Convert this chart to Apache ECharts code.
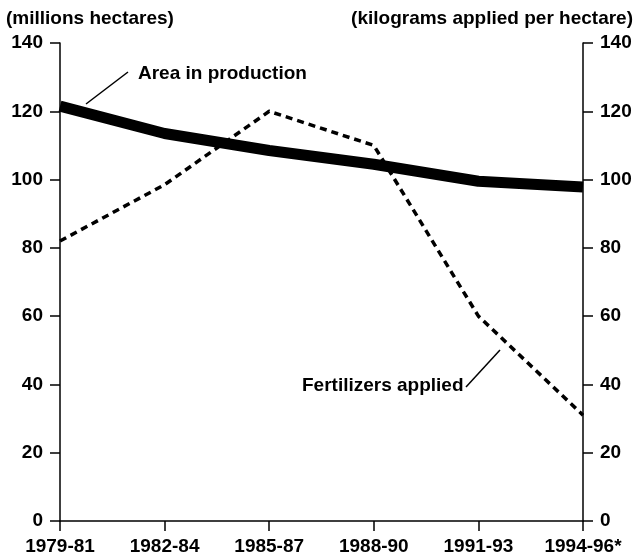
<!DOCTYPE html>
<html>
<head>
<meta charset="utf-8">
<script src="https://cdn.jsdelivr.net/npm/echarts@6/dist/echarts.min.js"></script>
<style>
  html, body { margin: 0; padding: 0; background: #fff; }
  #chart { width: 638px; height: 560px; }
</style>
</head>
<body>
<div id="chart"></div>
<script>
// periods on the x axis
const periods = ["1979-81", "1982-84", "1985-87", "1988-90", "1991-93", "1994-96*"];
// area in production, millions hectares (left axis)
const areaValues = [121.5, 113.5, 108.5, 104.5, 99.5, 97.8];
// fertilizers applied, kg per hectare (right axis)
const fertValues = [82, 98.5, 120, 110, 60, 31];

const font = "Liberation Sans, Arial, Helvetica, sans-serif";
const txt = { color: "#000", fontFamily: font, fontSize: 19, fontWeight: "bold" };

let myChart = echarts.init(document.getElementById("chart"));

const yAxisBase = {
  type: "value",
  min: 0,
  max: 140,
  interval: 20,
  splitLine: { show: false },
  axisLine: { show: true, lineStyle: { color: "#000", width: 1.5 } },
  axisTick: { show: true, length: 10, lineStyle: { color: "#000", width: 1.5 } },
  axisLabel: Object.assign({ margin: 17 }, txt),
};

myChart.setOption({
  animation: false,
  grid: { left: 60, right: 55, top: 43, bottom: 39 },
  xAxis: {
    type: "category",
    data: periods,
    boundaryGap: false,
    axisLine: { lineStyle: { color: "#000", width: 1.5 } },
    axisTick: { show: true, length: 10, alignWithLabel: true, lineStyle: { color: "#000", width: 1.5 } },
    axisLabel: Object.assign({ margin: 16, interval: 0 }, txt),
  },
  yAxis: [
    Object.assign({ position: "left" }, yAxisBase),
    Object.assign({ position: "right" }, yAxisBase),
  ],
  series: [
    {
      name: "Fertilizers applied",
      type: "line",
      yAxisIndex: 1,
      data: fertValues,
      symbol: "none",
      lineStyle: { color: "#000", width: 3.5, type: [7, 5] },
    },
    {
      name: "Area in production",
      type: "line",
      yAxisIndex: 0,
      data: areaValues,
      symbol: "none",
      lineStyle: { color: "#000", width: 11, cap: "butt" },
    },
  ],
  graphic: [
    { type: "text", left: 6, top: 9, style: Object.assign({ text: "(millions hectares)" }, txt) },
    { type: "text", right: 5, top: 9, style: Object.assign({ text: "(kilograms applied per hectare)" }, txt) },
    { type: "text", left: 138, top: 64, style: Object.assign({ text: "Area in production" }, txt) },
    { type: "line", shape: { x1: 86, y1: 104, x2: 128, y2: 72 }, style: { stroke: "#000", lineWidth: 1.5 } },
    { type: "text", left: 302, top: 376, style: Object.assign({ text: "Fertilizers applied" }, txt) },
    { type: "line", shape: { x1: 466, y1: 387, x2: 500, y2: 350 }, style: { stroke: "#000", lineWidth: 1.5 } },
  ],
});

window.addEventListener("resize", () => {
  myChart.resize();
});
</script>
</body>
</html>
